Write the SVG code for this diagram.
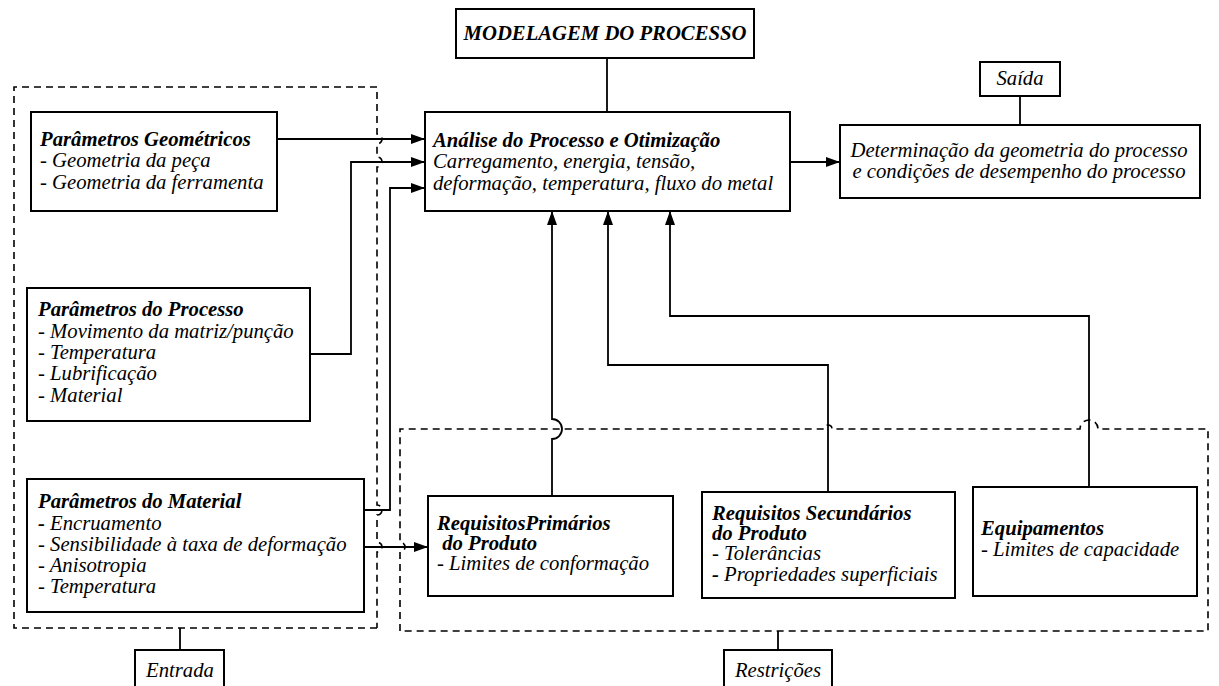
<svg xmlns="http://www.w3.org/2000/svg" width="1219" height="686" viewBox="0 0 1219 686">
  <style>
    .box { fill: #ffffff; stroke: #000000; stroke-width: 2; }
    .dash { fill: none; stroke: #000000; stroke-width: 1.6; stroke-dasharray: 7 5; }
    .wire { fill: none; stroke: #000000; stroke-width: 1.8; }
    .arrow { marker-end: url(#head); }
    text { font-family: 'Liberation Serif', 'Times New Roman', 'DejaVu Serif', serif; font-size: 20.7px; font-style: italic; fill: #000000; }
    .b { font-weight: bold; }
    .c { text-anchor: middle; }
  </style>
  <defs>
    <marker id="head" markerUnits="userSpaceOnUse" markerWidth="15" markerHeight="11" refX="14" refY="5" orient="auto">
      <path d="M0,0 L14,5 L0,10 Z" fill="#000000"/>
    </marker>
  </defs>
  <rect width="1219" height="686" fill="#ffffff"/>

  <!-- grouping frames (dashed) with line hops -->
  <g id="frames">
    <path class="dash" d="M377,628 H14 V87 H377 V134 A5,5 0 0 1 377,144 V157 A5,5 0 0 1 377,167 V505 A5,5 0 0 1 377,515 V542 A5,5 0 0 1 377,552 V628"/>
    <path class="dash" d="M400,631 V552 A5,5 0 0 0 400,542 V429 H824 A4,4 0 0 1 832,429 H1080 A9,9 0 0 1 1098,429 H1208 V631 Z"/>
  </g>

  <!-- connectors -->
  <g id="connectors">
    <path class="wire" d="M607,58 V112"/>
    <path class="wire" d="M1020,96 V125"/>
    <path class="wire" d="M180,628 V650"/>
    <path class="wire" d="M778,631 V650"/>
    <path class="wire arrow" d="M790,162 H840"/>
    <path class="wire arrow" d="M277,139 H425"/>
    <path class="wire arrow" d="M310,354 H351 V162 H425"/>
    <path class="wire arrow" d="M364,510 H390 V188 H425"/>
    <path class="wire arrow" d="M364,547 H428"/>
    <path class="wire arrow" d="M552,496 V439 A10,10 0 0 0 552,419 V211"/>
    <path class="wire arrow" d="M828,492 V365 H608 V211"/>
    <path class="wire arrow" d="M1089,487 V316 H670 V211"/>
  </g>

  <g font-family="Liberation Serif, Times New Roman, serif">
  <g id="modelagem">
    <rect class="box" x="456" y="9" width="298" height="49"/>
    <text class="b c" x="605" y="40">MODELAGEM DO PROCESSO</text>
  </g>

  <g id="analise">
    <rect class="box" x="425" y="112" width="365" height="99"/>
    <text class="b" x="433" y="147">Análise do Processo e Otimização</text>
    <text x="433" y="168">Carregamento, energia, tensão,</text>
    <text x="433" y="190">deformação, temperatura, fluxo do metal</text>
  </g>

  <g id="saida">
    <rect class="box" x="980" y="62" width="80" height="34"/>
    <text class="c" x="1020" y="85">Saída</text>
  </g>

  <g id="determinacao">
    <rect class="box" x="840" y="125" width="360" height="73"/>
    <text class="c" x="1019" y="157">Determinação da geometria do processo</text>
    <text class="c" x="1019" y="178">e condições de desempenho do processo</text>
  </g>

  <g id="geometricos">
    <rect class="box" x="31" y="112" width="246" height="99"/>
    <text class="b" x="40" y="146">Parâmetros Geométricos</text>
    <text x="40" y="167">- Geometria da peça</text>
    <text x="40" y="189">- Geometria da ferramenta</text>
  </g>

  <g id="processo">
    <rect class="box" x="27" y="288" width="283" height="133"/>
    <text class="b" x="38" y="316">Parâmetros do Processo</text>
    <text x="38" y="338">- Movimento da matriz/punção</text>
    <text x="38" y="359">- Temperatura</text>
    <text x="38" y="380">- Lubrificação</text>
    <text x="38" y="402">- Material</text>
  </g>

  <g id="material">
    <rect class="box" x="27" y="479" width="337" height="133"/>
    <text class="b" x="38" y="508">Parâmetros do Material</text>
    <text x="38" y="530"><tspan class="b">-</tspan> Encruamento</text>
    <text x="38" y="551">- Sensibilidade à taxa de deformação</text>
    <text x="38" y="572">- Anisotropia</text>
    <text x="38" y="593">- Temperatura</text>
  </g>

  <g id="entrada">
    <rect class="box" x="135" y="650" width="89" height="45"/>
    <text class="c" x="180" y="677">Entrada</text>
  </g>

  <g id="primarios">
    <rect class="box" x="428" y="496" width="245" height="100"/>
    <text class="b" x="437" y="530">RequisitosPrimários</text>
    <text class="b" x="437" y="550" xml:space="preserve"> do Produto</text>
    <text x="437" y="570">- Limites de conformação</text>
  </g>

  <g id="secundarios">
    <rect class="box" x="702" y="492" width="253" height="106"/>
    <text class="b" x="712" y="520">Requisitos Secundários</text>
    <text class="b" x="712" y="540">do Produto</text>
    <text x="712" y="560">- Tolerâncias</text>
    <text x="712" y="581"><tspan class="b">-</tspan> Propriedades superficiais</text>
  </g>

  <g id="equipamentos">
    <rect class="box" x="973" y="487" width="224" height="109"/>
    <text class="b" x="981" y="535">Equipamentos</text>
    <text x="981" y="556">- Limites de capacidade</text>
  </g>

  <g id="restricoes">
    <rect class="box" x="724" y="650" width="108" height="45"/>
    <text class="c" x="778" y="677">Restrições</text>
  </g>
  </g>
</svg>
